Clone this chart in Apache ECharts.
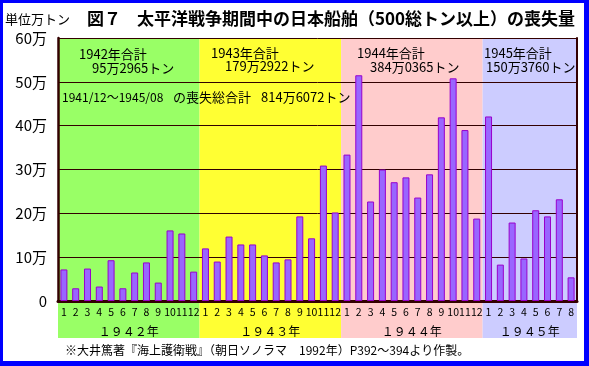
<!DOCTYPE html>
<html>
<head>
<meta charset="utf-8">
<script src="https://cdn.jsdelivr.net/npm/echarts@6/dist/echarts.min.js"></script>
<style>
html,body{margin:0;padding:0;background:#fff;}
#chart{position:absolute;left:0;top:0;width:589px;height:366px;}
#frame{position:absolute;left:0;top:0;width:589px;height:366px;box-sizing:border-box;
border-left:3px solid #0000FF;border-top:3px solid #0000FF;border-right:5px solid #0000FF;border-bottom:5px solid #0000FF;pointer-events:none;}
</style>
</head>
<body>
<div id="chart"></div>
<div id="frame"></div>
<script>
// ---- data (万トン) ----
const monthLabels = ['1','2','3','4','5','6','7','8','9','10','11','12',
                     '1','2','3','4','5','6','7','8','9','10','11','12',
                     '1','2','3','4','5','6','7','8','9','10','11','12',
                     '1','2','3','4','5','6','7','8'];
const yearLabels = ['１９４２年','１９４３年','１９４４年','１９４５年'];
const monthsPerYear = [12, 12, 12, 8];
const loss1942 = [7.2, 2.9, 7.4, 3.3, 9.3, 2.9, 6.5, 8.8, 4.2, 16.1, 15.4, 6.7];
const loss1943 = [12.0, 9.0, 14.7, 12.9, 12.9, 10.4, 8.8, 9.5, 19.3, 14.3, 30.9, 20.2];
const loss1944 = [33.4, 51.5, 22.7, 30.0, 27.1, 28.2, 23.6, 28.9, 41.9, 50.8, 39.0, 18.8];
const loss1945 = [42.1, 8.3, 17.9, 9.7, 20.7, 19.3, 23.2, 5.4];
const yTickLabels = ['0','10万','20万','30万','40万','50万','60万'];
const yearTotalTitles = ['1942年合計','1943年合計','1944年合計','1945年合計'];
const yearTotalValues = ['95万2965トン','179万2922トン','384万0365トン','150万3760トン'];
const overallPeriod = '1941/12〜1945/08';
const overallLabel = 'の喪失総合計';
const overallValue = '814万6072トン';
const titleNo = '図７';
const titleText = '太平洋戦争期間中の日本船舶（500総トン以上）の喪失量';
const unitText = '単位万トン';
const sourceText = '※大井篤著『海上護衛戦』（朝日ソノラマ　1992年）P392〜394より作製。';

// ---- styles ----
const bandColors = ['#99FF66','#FFFF33','#FFCCCC','#CCCCFF'];
const FONT = '"Noto Sans CJK JP", "Noto Sans CJK SC", sans-serif';
const DARK = '#330000';

const allLoss = loss1942.concat(loss1943, loss1944, loss1945);
const nMonths = monthLabels.length;

// band ranges in month-index units
const bands = [];
let start = 0;
monthsPerYear.forEach((n, i) => { bands.push([start, start + n, i]); start += n; });

const plotBands = bands.map(b => [
  { xAxis: b[0], itemStyle: { color: bandColors[b[2]] } },
  { xAxis: b[1] }
]);
const lowerBands = bands.map(b => [
  { xAxis: b[0], name: yearLabels[b[2]], itemStyle: { color: bandColors[b[2]] } },
  { xAxis: b[1] }
]);

const chart = echarts.init(document.getElementById('chart'), null, { renderer: 'canvas' });

function txt(x, y, text, size, bold) {
  return { type: 'text', x: x, y: y, z: 100,
    style: { text: text, font: (bold ? 'bold ' : '') + size + 'px ' + FONT, fill: '#000', verticalAlign: 'middle', align: 'left' } };
}

const option = {
  animation: false,
  backgroundColor: '#fff',
  grid: [
    { left: 58, right: 12, top: 38, bottom: 65 },
    { left: 58, right: 12, top: 301, height: 37 }
  ],
  xAxis: [
    { type: 'category', gridIndex: 0, data: monthLabels, z: 3,
      axisLine: { show: true, onZero: false, lineStyle: { color: DARK, width: 3 } },
      axisTick: { show: false },
      axisLabel: { interval: 0, margin: 6, fontSize: 10.5, color: '#000', fontFamily: FONT },
      splitLine: { show: false } },
    { type: 'value', gridIndex: 0, min: 0, max: nMonths, position: 'top', z: 3,
      axisLine: { show: true, lineStyle: { color: DARK, width: 2 } },
      axisTick: { show: false }, axisLabel: { show: false }, splitLine: { show: false } },
    { type: 'value', gridIndex: 1, min: 0, max: nMonths, show: false }
  ],
  yAxis: [
    { type: 'value', gridIndex: 0, min: 0, max: 60, interval: 10, z: 3,
      axisLine: { show: true, lineStyle: { color: DARK, width: 2.5 } },
      axisTick: { show: false },
      axisLabel: { margin: 11, fontSize: 15, color: '#000', fontFamily: FONT,
        formatter: v => yTickLabels[Math.round(v / 10)] },
      splitLine: { show: true, lineStyle: { color: DARK, width: 1 } } },
    { type: 'value', gridIndex: 0, min: 0, max: 60, interval: 10, position: 'right', z: 3,
      axisLine: { show: true, lineStyle: { color: DARK, width: 2 } },
      axisTick: { show: false }, axisLabel: { show: false }, splitLine: { show: false } },
    { type: 'value', gridIndex: 1, min: 0, max: 1, show: false }
  ],
  series: [
    { type: 'line', xAxisIndex: 1, yAxisIndex: 0, z: 1, data: [[0, 0]], symbol: 'none',
      lineStyle: { opacity: 0 }, silent: true,
      markArea: { silent: true, data: plotBands } },
    { type: 'line', xAxisIndex: 2, yAxisIndex: 2, z: 1, data: [[0, 0]], symbol: 'none',
      lineStyle: { opacity: 0 }, silent: true,
      markArea: { silent: true,
        label: { show: true, position: 'insideBottom', distance: 1, fontSize: 12, color: '#000', fontFamily: FONT },
        data: lowerBands } },
    { type: 'bar', xAxisIndex: 0, yAxisIndex: 0, z: 4, data: allLoss, barWidth: 7,
      itemStyle: { color: '#9966FF', borderColor: '#9900CC', borderWidth: 1 } }
  ],
  graphic: [
    txt(5, 19, unitText, 13, false),
    txt(87, 19, titleNo, 17, true),
    txt(137, 19, titleText, 17, true),
    txt(79, 54, yearTotalTitles[0], 13),
    txt(92, 68, yearTotalValues[0], 13),
    txt(211, 53, yearTotalTitles[1], 13),
    txt(225, 66, yearTotalValues[1], 13),
    txt(357, 53, yearTotalTitles[2], 13),
    txt(370, 67, yearTotalValues[2], 13),
    txt(484, 53, yearTotalTitles[3], 13),
    txt(486, 67, yearTotalValues[3], 13),
    txt(62, 97, overallPeriod, 12),
    txt(173, 97, overallLabel, 13),
    txt(261, 97, overallValue, 13),
    txt(65, 350, sourceText, 12)
  ]
};
chart.setOption(option);
</script>
</body>
</html>
